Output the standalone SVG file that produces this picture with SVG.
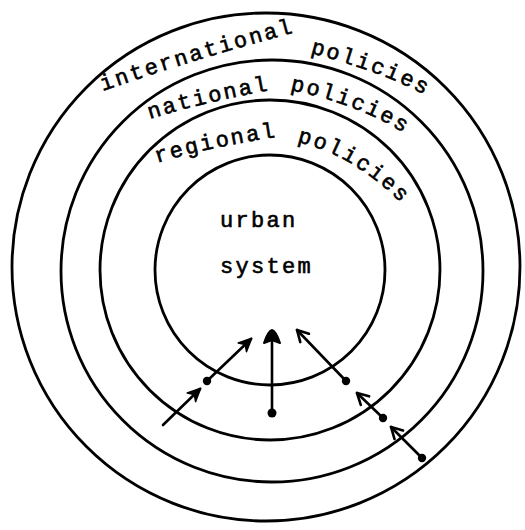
<svg xmlns="http://www.w3.org/2000/svg" xmlns:xlink="http://www.w3.org/1999/xlink" width="525" height="530" viewBox="0 0 525 530">
<style>
.ring{fill:none;stroke:#000;stroke-width:2.8}
.lbl{font-family:"Liberation Mono","Courier New",monospace;font-size:22px;letter-spacing:2.3px;fill:#000;stroke:#000;stroke-width:0.6}
.con{stroke:#000;stroke-width:2.6;fill:none;stroke-linecap:round}
.dot{fill:#000}
</style>
<defs>
<marker id="hs" markerUnits="userSpaceOnUse" markerWidth="20" markerHeight="20" refX="0" refY="0" viewBox="-14 -10 20 20" orient="auto">
<path d="M-12,-6 L1,0 L-12,6 L-8,0 Z" fill="#000" stroke="#000" stroke-width="1.5" stroke-linejoin="round"/>
</marker>
<marker id="ho" markerUnits="userSpaceOnUse" markerWidth="20" markerHeight="20" refX="0" refY="0" viewBox="-14 -10 20 20" orient="auto">
<path d="M-11,-6 L0,0 L-11,6" fill="none" stroke="#000" stroke-width="2.6" stroke-linecap="round" stroke-linejoin="round"/>
</marker>
<marker id="hb" markerUnits="userSpaceOnUse" markerWidth="24" markerHeight="24" refX="0" refY="0" viewBox="-14 -12 24 24" orient="auto">
<path d="M-10,-8 Q2,-4 3,0 Q2,4 -10,8 L-7,0 Z" fill="#000" stroke="#000" stroke-width="2" stroke-linejoin="round"/>
</marker>
<path id="p-int" d="M103,91 Q200,57 315,27"/>
<path id="p-pol1" d="M310,53 Q405,78 445,108"/>
<path id="p-nat" d="M150,119 Q210,100 295,86"/>
<path id="p-pol2" d="M290,90 Q375,108 425,148"/>
<path id="p-reg" d="M157,163 Q215,145 305,133"/>
<path id="p-pol3" d="M297,142 Q365,158 418,222"/>
</defs>

<g id="international">
<circle class="ring" cx="266" cy="267" r="254"/>
<text class="lbl"><textPath xlink:href="#p-int" href="#p-int">international</textPath></text>
<text class="lbl"><textPath xlink:href="#p-pol1" href="#p-pol1">policies</textPath></text>
</g>

<g id="national">
<circle class="ring" cx="272" cy="271" r="211"/>
<text class="lbl"><textPath xlink:href="#p-nat" href="#p-nat">national</textPath></text>
<text class="lbl"><textPath xlink:href="#p-pol2" href="#p-pol2">policies</textPath></text>
</g>

<g id="regional">
<circle class="ring" cx="270" cy="270" r="170"/>
<text class="lbl"><textPath xlink:href="#p-reg" href="#p-reg">regional</textPath></text>
<text class="lbl"><textPath xlink:href="#p-pol3" href="#p-pol3">policies</textPath></text>
</g>

<g id="urban-system">
<circle class="ring" cx="270" cy="270" r="115"/>
<text class="lbl" x="220" y="227">urban</text>
<text class="lbl" x="220" y="273">system</text>
</g>

<g id="connectors">
<line class="con" x1="163" y1="425" x2="200" y2="389" marker-end="url(#hs)"/>
<circle class="dot" cx="207" cy="381" r="4.2"/>
<line class="con" x1="207" y1="381" x2="251" y2="339" marker-end="url(#hs)"/>
<line class="con" x1="272" y1="413" x2="272" y2="333" stroke-width="3.6" marker-end="url(#hb)"/>
<circle class="dot" cx="272" cy="413" r="4.5"/>
<line class="con" x1="346" y1="381" x2="297" y2="330" marker-end="url(#ho)"/>
<circle class="dot" cx="346" cy="381" r="4.2"/>
<line class="con" x1="383" y1="418" x2="357" y2="393" marker-end="url(#ho)"/>
<circle class="dot" cx="383" cy="418" r="4.2"/>
<line class="con" x1="422" y1="458" x2="391" y2="427" marker-end="url(#ho)"/>
<circle class="dot" cx="422" cy="458" r="4.2"/>
</g>
</svg>
